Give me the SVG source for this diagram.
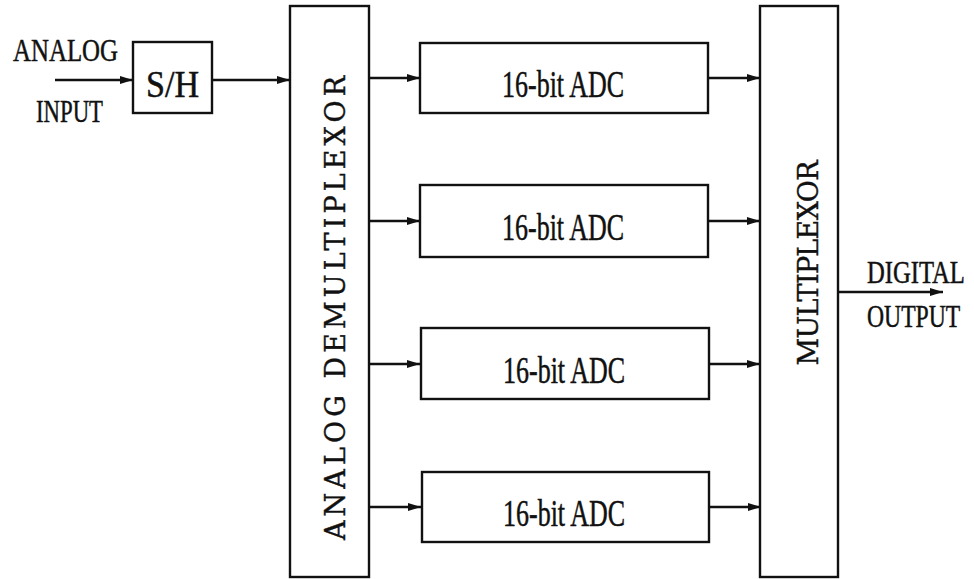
<svg xmlns="http://www.w3.org/2000/svg" width="974" height="579" viewBox="0 0 974 579">
<style>
.box{fill:#fff;stroke:#111;stroke-width:2.4}
.ln{fill:none;stroke:#111;stroke-width:2.4}
.t{font-family:"Liberation Serif","Times New Roman",serif;fill:#111;stroke:#111;stroke-width:0.5}
.v{font-family:"DejaVu Serif","Liberation Serif",serif;fill:#111;stroke:#111;stroke-width:0.4;font-size:27px}
</style>
<defs>
<marker id="ah" viewBox="0 0 13 8" refX="13" refY="4" markerWidth="13" markerHeight="8" markerUnits="userSpaceOnUse" orient="auto">
<path d="M0,0 L13,4 L0,8 Z" fill="#111"/>
</marker>
</defs>
<rect width="974" height="579" fill="#fff"/>
<g id="connectors">
<line class="ln" x1="55" y1="80" x2="133" y2="80" marker-end="url(#ah)"/>
<line class="ln" x1="212" y1="80" x2="290" y2="80" marker-end="url(#ah)"/>
<line class="ln" x1="369" y1="78" x2="420" y2="78" marker-end="url(#ah)"/>
<line class="ln" x1="369" y1="221" x2="420" y2="221" marker-end="url(#ah)"/>
<line class="ln" x1="369" y1="364" x2="420" y2="364" marker-end="url(#ah)"/>
<line class="ln" x1="369" y1="507" x2="421" y2="507" marker-end="url(#ah)"/>
<line class="ln" x1="708" y1="78" x2="760" y2="78" marker-end="url(#ah)"/>
<line class="ln" x1="708" y1="221" x2="760" y2="221" marker-end="url(#ah)"/>
<line class="ln" x1="709" y1="364" x2="760" y2="364" marker-end="url(#ah)"/>
<line class="ln" x1="709" y1="507" x2="761" y2="507" marker-end="url(#ah)"/>
<line class="ln" x1="838" y1="292" x2="943" y2="292" marker-end="url(#ah)"/>
</g>
<g id="input-label">
<text class="t" x="13" y="61" font-size="32" textLength="105" lengthAdjust="spacingAndGlyphs">ANALOG</text>
<text class="t" x="36" y="122" font-size="32" textLength="67" lengthAdjust="spacingAndGlyphs">INPUT</text>
</g>
<g id="sh">
<rect class="box" x="133" y="42" width="79" height="71"/>
<text class="t" x="172.5" y="97" font-size="37" text-anchor="middle" textLength="53" lengthAdjust="spacingAndGlyphs">S/H</text>
</g>
<g id="demux">
<rect class="box" x="290" y="6" width="79" height="571"/>
<text class="v" transform="translate(345,308) rotate(-90)" text-anchor="middle" textLength="464" lengthAdjust="spacing">ANALOG DEMULTIPLEXOR</text>
</g>
<g id="adc1">
<rect class="box" x="420" y="43" width="288" height="70"/>
<text class="t" x="563" y="97" font-size="37" text-anchor="middle" textLength="122" lengthAdjust="spacingAndGlyphs">16-bit ADC</text>
</g>
<g id="adc2">
<rect class="box" x="420" y="185" width="288" height="72"/>
<text class="t" x="563" y="240" font-size="37" text-anchor="middle" textLength="122" lengthAdjust="spacingAndGlyphs">16-bit ADC</text>
</g>
<g id="adc3">
<rect class="box" x="421" y="328" width="288" height="71"/>
<text class="t" x="564" y="383" font-size="37" text-anchor="middle" textLength="122" lengthAdjust="spacingAndGlyphs">16-bit ADC</text>
</g>
<g id="adc4">
<rect class="box" x="422" y="472" width="287" height="70"/>
<text class="t" x="564" y="526" font-size="37" text-anchor="middle" textLength="122" lengthAdjust="spacingAndGlyphs">16-bit ADC</text>
</g>
<g id="mux">
<rect class="box" x="760" y="6" width="78" height="571"/>
<text class="v" transform="translate(818,263) rotate(-90)" text-anchor="middle" textLength="205" lengthAdjust="spacing">MULTIPLEXOR</text>
</g>
<g id="output-label">
<text class="t" transform="translate(867,283) scale(0.77,1)" x="0" y="0" font-size="32">DIGITAL</text>
<text class="t" transform="translate(867,327) scale(0.74,1)" x="0" y="0" font-size="32">OUTPUT</text>
</g>
</svg>
